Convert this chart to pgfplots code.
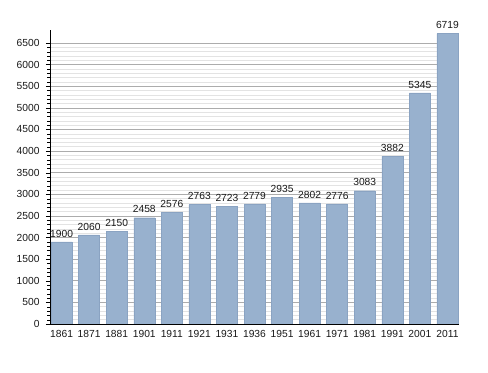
\documentclass[border=0pt]{standalone}
\usepackage{pgfplots}
\pgfplotsset{compat=1.18}
\usepackage{fontspec}
\setmainfont{Liberation Sans}
\definecolor{barc}{HTML}{98B1CE}
\definecolor{bard}{HTML}{8AA3C2}
\begin{document}
\begin{tikzpicture}
\begin{axis}[
  at={(0,0)}, anchor=south west,
  scale only axis, width=409bp, height=294bp,
  xmin=-0.42, xmax=14.42, ymin=0, ymax=6800,
  axis x line=bottom, axis y line=left,
  axis line style={black, -},
  ytick={0,500,...,6500},
  minor y tick num=4,
  ymajorgrids, yminorgrids,
  major grid style={gray!65, line width=0.6pt},
  minor grid style={gray!22, line width=0.5pt},
  tick align=outside,
  major tick length=4bp, minor tick length=2.5bp,
  y tick style={black},
  x tick style={draw=none},
  xtick=data,
  xticklabels={1861,1871,1881,1901,1911,1921,1931,1936,1951,1961,1971,1981,1991,2001,2011},
  tick label style={font=\fontsize{10.3}{11}\selectfont, text=black!90},
  /pgf/number format/assume math mode=true,
  yticklabel style={/pgf/number format/1000 sep={}, xshift=-3bp},
  xticklabel style={yshift=1bp},
  nodes near coords,
  every node near coord/.append style={font=\fontsize{10.3}{11}\selectfont, text=black!90, /pgf/number format/1000 sep={}, inner sep=1.5bp, yshift=3bp},
]
\addplot[ybar, bar width=21bp, fill=barc, draw=bard, line width=0.4pt] coordinates {
(0,1900) (1,2060) (2,2150) (3,2458) (4,2576) (5,2763) (6,2723) (7,2779)
(8,2935) (9,2802) (10,2776) (11,3083) (12,3882) (13,5345) (14,6719)
};
\end{axis}
\path[use as bounding box] (-50bp,-49bp) rectangle (438bp,324bp);
\end{tikzpicture}
\end{document}
